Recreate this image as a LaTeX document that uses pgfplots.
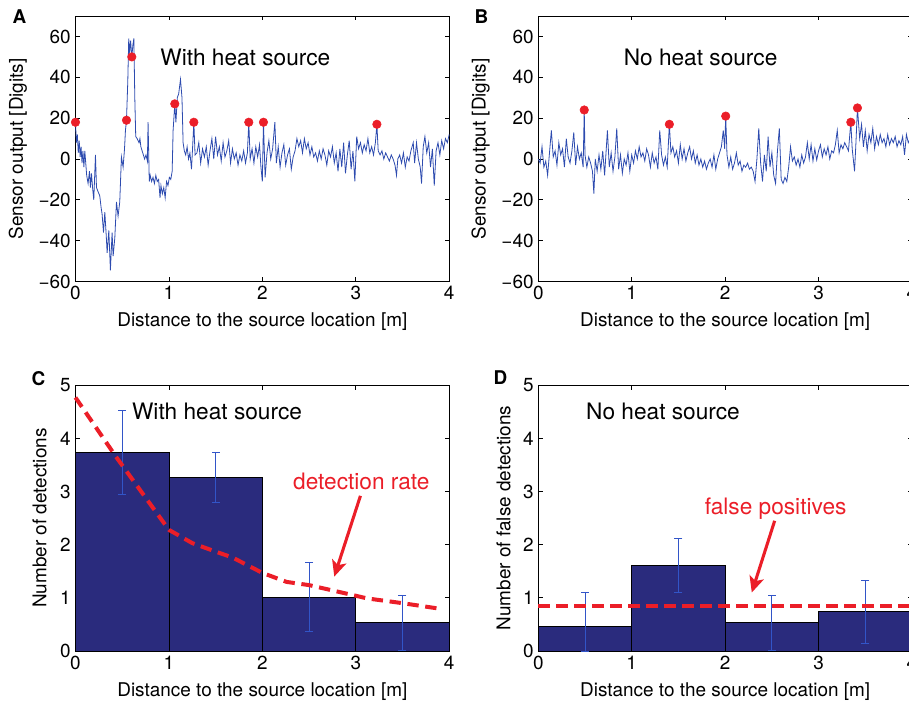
\documentclass[border=0pt]{standalone}
\usepackage{fontspec}
\setmainfont{TeX Gyre Heros}
\usepackage{pgfplots}
\pgfplotsset{compat=1.18}
\usetikzlibrary{arrows.meta}

\definecolor{sig}{RGB}{45,75,175}
\definecolor{dotred}{RGB}{235,30,40}
\definecolor{barnavy}{RGB}{42,43,125}
\definecolor{errblue}{RGB}{50,85,200}

\newcommand{\lab}{\fontsize{14.2}{16}\selectfont}
\newcommand{\ann}{\fontsize{17}{20}\selectfont}

\pgfplotsset{
  panel/.style={
    scale only axis, width=280.3pt, anchor=south west, clip=false,
    xmin=0, xmax=4, xtick={0,1,2,3,4}, xticklabels={0,1,2,3,4},
    tick align=inside, tick pos=both, major tick length=3.3pt,
    axis line style={line width=0.6pt},
    every tick/.style={line width=0.6pt, black},
    tick label style={font=\lab},
    label style={font=\lab},
    xlabel={Distance to the source location [m]},
    xlabel style={at={(axis description cs:0.5,-0.152)}, anchor=center},
    unbounded coords=jump,
  },
  signal/.style={panel, height=199.1pt, ymin=-60, ymax=70,
    ytick={-60,-40,-20,0,20,40,60},
    yticklabels={−60,−40,−20,0,20,40,60},
    ylabel={Sensor output [Digits]},
    ylabel style={at={(axis description cs:-0.154,0.5)}, anchor=center}},
  counts/.style={panel, height=199.3pt, ymin=0, ymax=5,
    ytick={0,1,2,3,4,5}, yticklabels={0,1,2,3,4,5}},
  errbar/.style={errblue, line width=0.6pt, mark=-, mark size=3pt,
    mark options={solid, draw=errblue, line width=0.6pt}},
}

\begin{document}
\begin{tikzpicture}
\useasboundingbox (0,0) rectangle (681.75pt,527.25pt);

% A: with heat source, raw signal
\begin{axis}[signal, at={(56.6pt,316.1pt)}]
\addplot[sig, line width=0.6pt] coordinates {
(0,18)(0.01,8)(0.02,12)(0.03,3)(0.04,9)(0.05,1)(0.06,6)(0.07,-2)(0.08,4)(0.09,-4)
(0.10,4)(0.12,-8)(0.135,-12)(0.15,-6)(0.16,-14)(0.171,-7)(0.185,-15)(0.196,-20)(0.214,2)(0.225,-14)
(0.242,-16)(0.26,-18)(0.275,-24)(0.285,-27)(0.30,-36)(0.314,-26)(0.33,-38)(0.339,-46)(0.357,-35)(0.374,-54.5)
(0.392,-36)(0.403,-47.6)(0.421,-38.7)(0.439,-21)(0.456,-28)(0.474,-21)(0.492,1)(0.51,-4)(0.525,5)(0.535,14)
(0.546,19)(0.56,38)(0.57,59)(0.58,52)(0.59,58)(0.603,50)(0.615,56)(0.625,59)(0.635,30)(0.645,11)
(0.66,10)(0.68,8)(0.69,10)(0.70,6)(0.72,3)(0.74,0)(0.755,2)(0.77,-1)(0.777,18)(0.79,-11)
(0.80,-8)(0.815,-11)(0.83,-9)(0.845,-12)(0.86,-8)(0.875,-11)(0.89,-10)(0.905,-19)(0.915,-13)(0.93,-17)
(0.945,-14)(0.96,-19)(0.975,-11)(0.99,-13)(1.005,-9)(1.02,-10)(1.035,-6)(1.045,14)(1.063,27)(1.075,18)
(1.09,30)(1.105,32)(1.124,39)(1.14,30)(1.152,8)(1.165,4)(1.18,2)(1.195,6)(1.21,0)(1.225,3)
(1.242,-5)(1.267,18)(1.28,2)(1.30,3)(1.32,8)(1.34,-2)(1.36,5)(1.38,1)(1.40,6)(1.42,-3)
(1.44,4)(1.46,10)(1.48,0)(1.50,11)(1.52,2)(1.54,6)(1.56,-1)(1.58,8)(1.60,1)(1.62,4)
(1.64,9)(1.66,-2)(1.68,5)(1.70,0)(1.72,3)(1.74,-3)(1.76,2)(1.78,-1)(1.80,4)(1.82,-2)
(1.84,3)(1.855,18)(1.87,0)(1.89,5)(1.91,-2)(1.93,6)(1.95,1)(1.97,7)(1.985,-4)(2.0,-11)
(2.012,18)(2.03,-9)(2.05,3)(2.07,9)(2.09,0)(2.11,5)(2.134,18)(2.15,-2)(2.17,6)(2.19,-4)
(2.21,3)(2.23,7)(2.25,-3)(2.27,2)(2.29,5)(2.31,-5)(2.33,1)(2.35,4)(2.37,10)(2.39,6)
(2.41,9)(2.43,3)(2.45,10)(2.47,5)(2.49,8)(2.51,2)(2.53,6)(2.55,1)(2.57,3)(2.59,-1)
(2.61,4)(2.63,0)(2.65,5)(2.67,2)(2.69,-3)(2.71,4)(2.73,1)(2.75,6)(2.77,-2)(2.79,3)
(2.81,-6)(2.83,5)(2.85,-4)(2.87,8)(2.89,-7)(2.91,2)(2.93,9)(2.95,-5)(2.97,4)(2.99,-11)
(3.01,11)(3.03,5)(3.05,8)(3.07,3)(3.09,7)(3.11,4)(3.13,10)(3.15,3)(3.17,6)(3.19,2)
(3.21,8)(3.226,17)(3.24,4)(3.26,2)(3.28,4)(3.30,0)(3.32,3)(3.34,1)(3.36,-1)(3.38,2)
(3.40,0)(3.42,-3)(3.436,-8)(3.45,0)(3.47,2)(3.49,-2)(3.51,3)(3.53,-4)(3.55,1)(3.57,-1)
(3.59,4)(3.615,8)(3.63,-2)(3.65,8)(3.67,0)(3.69,-4)(3.704,-12)(3.722,6)(3.74,11)(3.76,3)
(3.78,8)(3.80,-4)(3.82,5)(3.84,-13)(3.86,4)(3.88,8)(3.90,2)(3.92,9)(3.94,5)(3.96,10)
(3.98,8)(4.00,12)
};
\addplot[only marks, mark=*, mark size=3.2pt, mark options={draw=dotred, fill=dotred}] coordinates {
(0,18)(0.546,19)(0.603,50)(1.063,27)(1.267,18)(1.855,18)(2.012,18)(3.226,17)
};
\node[font=\ann, anchor=base] at (axis cs:1.818,45.9) {With heat source};
\end{axis}

% B: no heat source, raw signal
\begin{axis}[signal, at={(403.7pt,316.1pt)}]
\addplot[sig, line width=0.6pt] coordinates {
(0.00,0)(0.02,-2)(0.04,6)(0.06,-4)(0.08,-1)(0.10,-8)(0.12,3)(0.14,14)(0.16,1)(0.18,4)
(0.20,-3)(0.22,8)(0.24,2)(0.26,5)(0.28,-4)(0.30,10)(0.32,1)(0.34,-2)(0.36,4)(0.38,13)
(0.40,-3)(0.42,6)(0.44,0)(0.46,3)(0.48,-4)(0.492,24)(0.50,2)(0.52,-4)(0.54,1)(0.56,-2)
(0.58,-6)(0.595,-17)(0.61,0)(0.63,-6)(0.65,2)(0.67,-5)(0.69,4)(0.71,-8)(0.74,14)(0.76,-4)
(0.78,3)(0.80,-6)(0.82,1)(0.84,15)(0.86,-5)(0.88,2)(0.90,-7)(0.92,0)(0.94,-3)(0.96,3)
(0.98,-6)(1.00,2)(1.02,-2)(1.04,4)(1.06,0)(1.08,6)(1.10,1)(1.12,3)(1.14,-1)(1.16,5)
(1.18,2)(1.20,-4)(1.22,3)(1.24,-2)(1.26,1)(1.28,-5)(1.30,14)(1.32,2)(1.34,-3)(1.36,1)
(1.38,-4)(1.403,17)(1.42,3)(1.44,6)(1.46,1)(1.48,4)(1.50,-2)(1.52,7)(1.54,0)(1.56,5)
(1.58,-1)(1.60,3)(1.62,6)(1.64,0)(1.66,4)(1.68,-2)(1.70,2)(1.72,-3)(1.74,0)(1.76,-4)
(1.78,-1)(1.80,-5)(1.82,-2)(1.84,0)(1.86,-4)(1.88,2)(1.90,-5)(1.92,0)(1.94,3)(1.96,6)
(1.98,14)(1.995,5)(2.006,21)(2.02,2)(2.04,-4)(2.06,1)(2.08,-5)(2.10,-2)(2.12,3)(2.14,-3)
(2.16,-1)(2.18,-6)(2.20,-3)(2.22,-4)(2.24,-2)(2.26,-5)(2.28,-4)(2.30,-6)(2.32,-11)(2.34,0)
(2.36,15)(2.38,-2)(2.40,-11)(2.42,2)(2.44,-6)(2.46,11)(2.48,-4)(2.50,3)(2.52,-8)(2.54,-12)
(2.56,4)(2.58,15)(2.60,-10)(2.62,-12)(2.64,-9)(2.66,-11)(2.68,-4)(2.70,6)(2.72,-1)(2.74,1)
(2.76,-3)(2.78,0)(2.80,-4)(2.82,2)(2.84,-2)(2.86,1)(2.88,8)(2.90,0)(2.92,7)(2.94,-1)
(2.96,5)(2.98,-0.5)(3.00,4)(3.02,7)(3.04,1)(3.06,5)(3.08,2)(3.10,6)(3.12,0)(3.14,4)
(3.16,3)(3.18,7)(3.20,14)(3.22,3)(3.24,7)(3.26,5)(3.28,8)(3.30,6)(3.32,4)(3.345,18)
(3.36,5)(3.385,-6)(3.40,8)(3.416,25)(3.44,10)(3.46,17)(3.48,6)(3.50,14)(3.52,4)(3.54,12)
(3.56,8)(3.58,15)(3.60,5)(3.62,11)(3.64,7)(3.66,12)(3.68,8)(3.70,10)(3.72,6)(3.74,12)
(3.76,7)(3.78,10)(3.80,8)(3.82,11)(3.84,6)(3.86,9)(3.88,7)(3.90,11)(3.92,2)(3.94,12)
(3.96,8)(3.98,10)(4.00,8)
};
\addplot[only marks, mark=*, mark size=3.2pt, mark options={draw=dotred, fill=dotred}] coordinates {
(0.492,24)(1.403,17)(2.006,21)(3.345,18)(3.416,25)
};
\node[font=\ann, anchor=base] at (axis cs:1.737,45.9) {No heat source};
\end{axis}

% C: detections with heat source
\begin{axis}[counts, at={(56.6pt,39pt)}, ylabel={Number of detections},
  ylabel style={at={(axis description cs:-0.096,0.5)}, anchor=center}]
\addplot[ybar, bar width=1, fill=barnavy, draw=black, line width=0.6pt] coordinates {
(0.5,3.74)(1.5,3.27)(2.5,1.01)(3.5,0.54)
};
% error bars: lower and upper end of each bar
\addplot[errbar] coordinates {
(0.5,2.95)(0.5,4.53) (0.5,nan)
(1.5,2.80)(1.5,3.74) (1.5,nan)
(2.5,0.36)(2.5,1.66) (2.5,nan)
(3.5,0.02)(3.5,1.04)
};
\addplot[dotred, line width=3pt, dash pattern=on 8.5pt off 5pt] coordinates {
(0,4.77)(0.44,3.64)(1,2.28)(1.25,2.03)(1.5,1.87)(1.68,1.76)(2,1.47)(2.26,1.30)(2.5,1.24)(3,1.04)(3.12,0.99)(3.5,0.90)(3.92,0.79)
};
\draw[dotred, line width=2.3pt, -{Stealth[length=12pt,width=11pt,inset=3pt]}] (axis cs:3.05,2.92) -- (axis cs:2.77,1.40);
\node[font=\ann, anchor=base] at (axis cs:1.515,4.35) {With heat source};
\node[font=\ann, anchor=base, text=dotred] at (axis cs:3.06,3.03) {detection rate};
\end{axis}

% D: false detections, no heat source
\begin{axis}[counts, at={(403.7pt,39pt)}, ylabel={Number of false detections},
  ylabel style={at={(axis description cs:-0.093,0.5)}, anchor=center}]
\addplot[ybar, bar width=1, fill=barnavy, draw=black, line width=0.6pt] coordinates {
(0.5,0.47)(1.5,1.61)(2.5,0.54)(3.5,0.75)
};
\addplot[errbar] coordinates {
(0.5,0.00)(0.5,1.10) (0.5,nan)
(1.5,1.10)(1.5,2.11) (1.5,nan)
(2.5,0.02)(2.5,1.04) (2.5,nan)
(3.5,0.14)(3.5,1.32)
};
\addplot[dotred, line width=3pt, dash pattern=on 8.5pt off 5pt] coordinates {
(0,0.84)(4,0.84)
};
\draw[dotred, line width=2.3pt, -{Stealth[length=12pt,width=11pt,inset=3pt]}] (axis cs:2.53,2.45) -- (axis cs:2.285,1.10);
\node[font=\ann, anchor=base] at (axis cs:1.335,4.35) {No heat source};
\node[font=\ann, anchor=base, text=dotred] at (axis cs:2.54,2.57) {false positives};
\end{axis}

\node[font=\bfseries\lab] at (14.6pt,514.5pt) {A};
\node[font=\bfseries\lab] at (361.1pt,514.5pt) {B};
\node[font=\bfseries\lab] at (28.9pt,243pt) {C};
\node[font=\bfseries\lab] at (375.4pt,243.7pt) {D};
\end{tikzpicture}
\end{document}
